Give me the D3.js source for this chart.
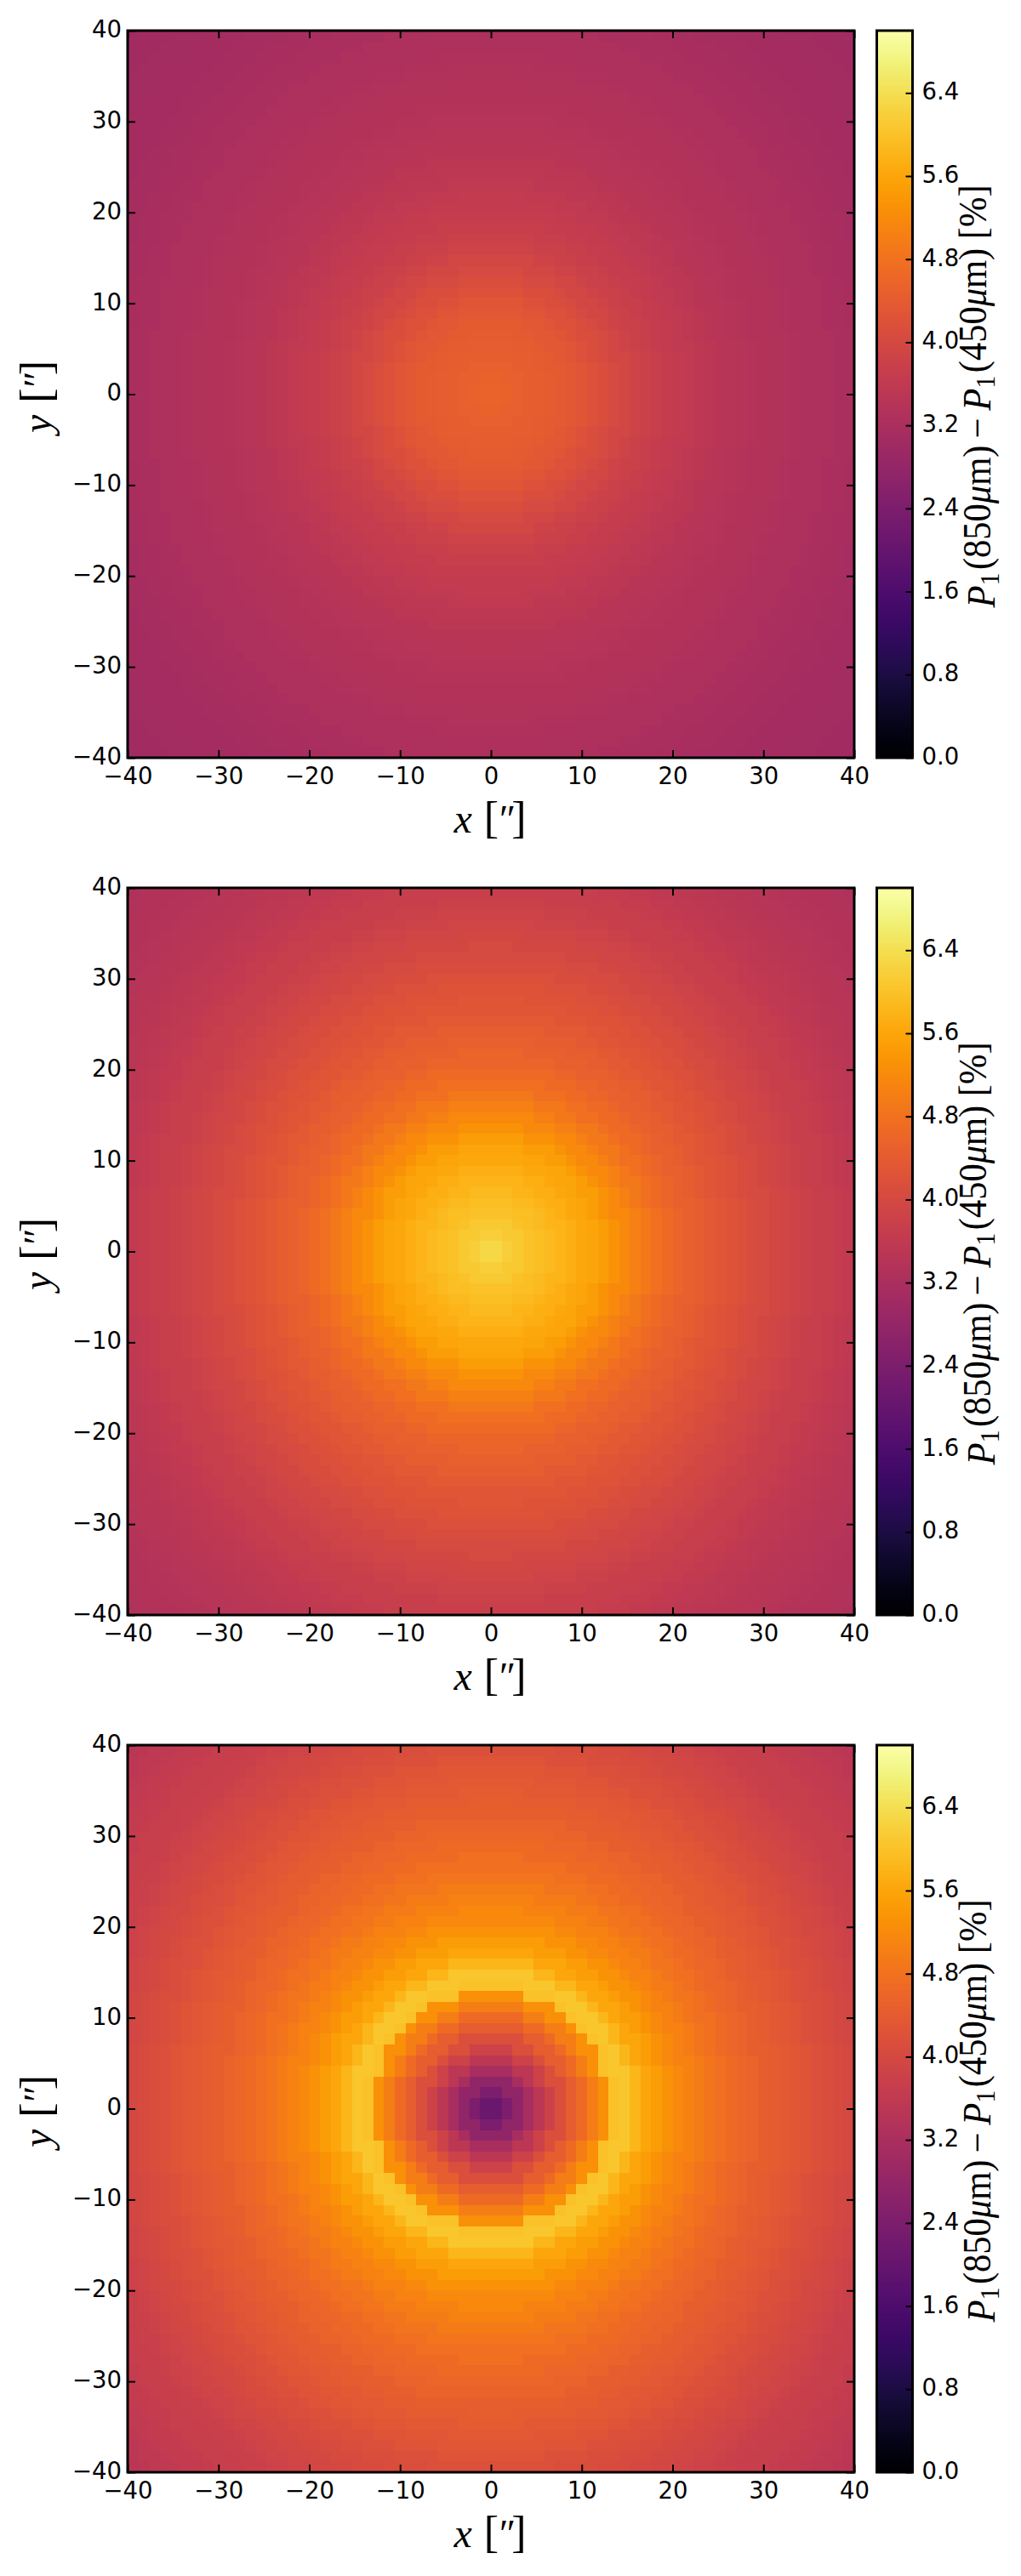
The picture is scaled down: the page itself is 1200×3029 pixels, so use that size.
<!DOCTYPE html>
<html>
<head>
<meta charset="utf-8">
<script src="https://cdnjs.cloudflare.com/ajax/libs/d3/7.8.5/d3.min.js"></script>
<style>
html,body{margin:0;padding:0;background:#fff;}
svg{display:block;}
.tick text{font-family:"DejaVu Sans",sans-serif;font-size:27.5px;fill:#000;}
.math{font-family:"Liberation Serif",serif;font-size:46px;fill:#000;}
</style>
</head>
<body>
<svg id="fig" width="1200" height="3029"></svg>
<script>
// Values: one value per ring of cells,
// ring 0 at the centre, one cell wide. The cell values below are looked up from these rings.
const ringsTop = [4.55,4.53,4.5,4.48,4.45,4.42,4.38,4.33,4.27,4.2,4.12,4.04,3.96,3.88,3.81,3.75,3.69,3.64,3.59,3.55,3.51,3.47,3.44,3.41,3.38,3.36,3.34,3.32,3.3,3.28,3.26,3.24,3.22,3.2,3.18,3.16,3.14,3.12,3.11,3.1,3.09,3.08,3.07,3.06,3.05,3.04,3.03,3.02,3.01];
const ringsMiddle = [6.3,6.2,6.1,6.0,5.95,5.88,5.8,5.72,5.65,5.58,5.48,5.33,5.18,5.04,4.9,4.78,4.68,4.58,4.5,4.43,4.36,4.29,4.22,4.16,4.1,4.04,3.98,3.92,3.87,3.82,3.77,3.72,3.67,3.62,3.57,3.54,3.51,3.48,3.45,3.42,3.4,3.38,3.36,3.34,3.32,3.3,3.28,3.26,3.24];
const ringsBottom = [2.1,2.4,2.75,3.15,3.5,3.85,4.15,4.45,4.7,5.0,5.3,6.0,6.05,5.85,5.62,5.48,5.33,5.18,5.06,4.95,4.85,4.78,4.7,4.62,4.55,4.48,4.42,4.36,4.3,4.24,4.18,4.12,4.06,4.0,3.94,3.89,3.84,3.8,3.76,3.72,3.68,3.64,3.6,3.56,3.52,3.48,3.44,3.4,3.36];
const stretchY = [1.1, 1.1, 1.1];
const axisTicks = [-40,-30,-20,-10,0,10,20,30,40];
const barTicks = [0,0.8,1.6,2.4,3.2,4.0,4.8,5.6,6.4];
const barMax = 7;
const gridCount = 68;
const panelRings = [ringsTop, ringsMiddle, ringsBottom];
const panelTops = [36, 1044, 2052];

const L = 150, R = 1004, S = 855, BL = 1030.5, BR = 1072.5;
const svg = d3.select("#fig");
const color = d3.scaleSequential(d3.interpolateInferno).domain([0, barMax]);
const band = d3.scaleBand().domain(d3.range(gridCount)).range([0, R - L]);
const bandY = d3.scaleBand().domain(d3.range(gridCount)).range([0, S]);
const x = d3.scaleLinear().domain([-40, 40]).range([0, R - L]);
const y = d3.scaleLinear().domain([-40, 40]).range([S, 0]);
const cb = d3.scaleLinear().domain([0, barMax]).range([S, 0]);
const barLevels = d3.range(0, 256).map(i => (i + 0.5) / 256 * barMax);

function cellValue(rings, s, i, j) {
  const dx = i - gridCount / 2 + 0.5, dy = j - gridCount / 2 + 0.5;
  const r = Math.hypot(dx, dy);
  const e = 1 + (s - 1) * Math.min(1, Math.max(0, r - 14) / 12);
  const d = Math.hypot(dx, dy / e);
  return rings[Math.min(rings.length - 1, Math.floor(d))];
}

function styleAxis(g) {
  g.select(".domain").remove();
  g.selectAll(".tick line").attr("stroke", "#000").attr("stroke-width", 2);
}

// arcsecond label: variable, opening bracket, double prime, closing bracket
function arcLabel(t, name) {
  t.append("tspan").attr("font-style", "italic").style("font-size", "48px").text(name);
  t.append("tspan").attr("dx", "14").style("font-size", "52px").text("[");
  t.append("tspan").attr("dx", "-2").attr("font-style", "italic").style("font-size", "46px").text("\u2033");
  t.append("tspan").attr("dx", "-2").style("font-size", "52px").text("]");
}

panelRings.forEach((rings, p) => {
  const g = svg.append("g").attr("transform", `translate(${L},${panelTops[p]})`);
  const cells = [];
  for (let j = 0; j < gridCount; j++) for (let i = 0; i < gridCount; i++)
    cells.push({i, j, v: cellValue(rings, stretchY[p], i, j)});
  g.append("g").attr("shape-rendering", "crispEdges").selectAll("rect").data(cells).join("rect")
    .attr("x", d => band(d.i)).attr("y", d => bandY(d.j))
    .attr("width", band.bandwidth() + 0.6).attr("height", bandY.bandwidth() + 0.6)
    .attr("fill", d => color(d.v));

  g.append("g").attr("transform", `translate(0,${S})`)
    .call(d3.axisBottom(x).tickValues(axisTicks).tickSize(-9).tickPadding(11.5)).call(styleAxis);
  g.append("g").call(d3.axisTop(x).tickValues(axisTicks).tickSize(-9).tickFormat("")).call(styleAxis);
  g.append("g").call(d3.axisLeft(y).tickValues(axisTicks).tickSize(-9).tickPadding(7)).call(styleAxis)
    .selectAll("text").attr("dy", "0.27em");
  g.append("g").attr("transform", `translate(${R - L},0)`)
    .call(d3.axisRight(y).tickValues(axisTicks).tickSize(-9).tickFormat("")).call(styleAxis);
  g.append("rect").attr("width", R - L).attr("height", S).attr("fill", "none")
    .attr("stroke", "#000").attr("stroke-width", 3);

  // x label
  const xl = g.append("text").attr("class", "math").attr("x", (R - L) / 2 - 1).attr("y", 943)
    .attr("text-anchor", "middle");
  arcLabel(xl, "x");

  // y label
  const yl = g.append("text").attr("class", "math").attr("text-anchor", "middle")
    .attr("transform", `translate(${60 - L},${S / 2 + 3}) rotate(-90)`);
  arcLabel(yl, "y");

  // colour bar
  const b = svg.append("g").attr("transform", `translate(${BL},${panelTops[p]})`);
  b.append("g").attr("shape-rendering", "crispEdges").selectAll("rect").data(barLevels).join("rect")
    .attr("x", 0).attr("width", BR - BL)
    .attr("y", d => cb(d + barMax / 512)).attr("height", S / 256 + 0.6)
    .attr("fill", d => color(d));
  b.append("g").attr("transform", `translate(${BR - BL},0)`)
    .call(d3.axisRight(cb).tickValues(barTicks).tickSize(-8).tickPadding(11).tickFormat(d3.format(".1f")))
    .call(styleAxis).selectAll("text").attr("dy", "0.27em");
  b.append("rect").attr("width", BR - BL).attr("height", S).attr("fill", "none")
    .attr("stroke", "#000").attr("stroke-width", 3);

  // colour bar label
  const cl = svg.append("text").attr("class", "math").attr("text-anchor", "middle")
    .attr("transform", `translate(1169,${panelTops[p] + 430}) rotate(-90) scale(1,1.08)`)
    .style("font-size", "42.5px");
  const sub = (t) => {
    cl.append("tspan").attr("dy", "0.15em").style("font-size", "30px").text(t);
    cl.append("tspan").attr("dy", "-0.22em").text("\u200a");
  };
  cl.append("tspan").attr("font-style", "italic").text("P");
  sub("1");
  cl.append("tspan").text("(850");
  cl.append("tspan").attr("font-style", "italic").text("\u03bc");
  cl.append("tspan").text("m)\u2009\u2212\u2009");
  cl.append("tspan").attr("font-style", "italic").text("P");
  sub("1");
  cl.append("tspan").text("(450");
  cl.append("tspan").attr("font-style", "italic").text("\u03bc");
  cl.append("tspan").text("m) [%]");
});
</script>
</body>
</html>
